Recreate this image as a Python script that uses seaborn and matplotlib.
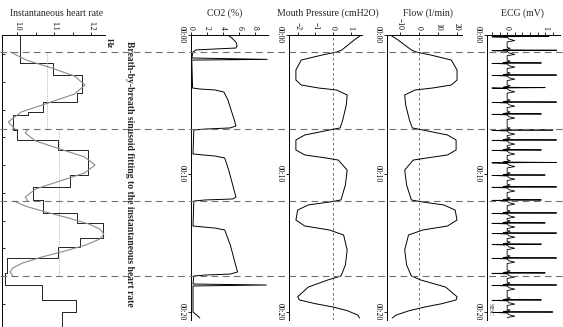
import numpy as np
import pandas as pd
import matplotlib
matplotlib.use("Agg")
import matplotlib.pyplot as plt
import seaborn as sns
from matplotlib.transforms import blended_transform_factory
from matplotlib.lines import Line2D
from matplotlib.ticker import MultipleLocator, FixedLocator

sns.set_theme(style="white")
plt.rcParams["font.family"] = ["Liberation Serif", "DejaVu Serif"]

# ---------------- data (time in s, values in panel units) ----------------
breath_onsets = [1.23, 6.79, 11.99, 17.40]

hr_step_t = [0.00, 2.02, 2.89, 4.19, 4.84, 5.56, 5.78, 6.86, 7.58, 8.30, 10.11,
             10.97, 11.91, 12.85, 13.57, 14.66, 15.31, 16.10, 17.18, 18.05,
             19.13, 20.00, 21.10]
hr_step_v = [1.008, 1.097, 1.176, 1.162, 1.070, 1.030, 0.989, 1.000, 1.111,
             1.192, 1.143, 1.043, 1.070, 1.162, 1.232, 1.170, 1.111, 0.973,
             0.968, 1.068, 1.159, 1.122, 1.122]

fit1_t = [1.23, 1.81, 2.38, 2.96, 3.61, 4.26, 4.91, 5.56, 6.28, 6.79]
fit1_v = [0.982, 1.025, 1.093, 1.155, 1.184, 1.155, 1.084, 1.011, 0.976, 0.994]
fit2_t = [6.79, 7.08, 7.65, 8.23, 8.81, 9.39, 9.96, 10.54, 11.12, 11.70, 11.99]
fit2_v = [1.029, 1.022, 1.050, 1.116, 1.183, 1.211, 1.183, 1.116, 1.050, 1.022, 1.029]
fit3_t = [11.99, 12.35, 12.78, 13.21, 13.65, 14.01, 14.37, 14.73, 15.16, 15.60,
          16.03, 16.46, 16.82, 17.11, 17.40]
fit3_v = [0.992, 1.022, 1.077, 1.139, 1.194, 1.224, 1.235, 1.224, 1.186, 1.129,
          1.067, 1.015, 0.988, 0.981, 0.988]

breath_mean_t0 = [1.23, 6.79, 11.99]
breath_mean_t1 = [6.79, 11.99, 17.40]
breath_mean_v = [1.080, 1.113, 1.113]

co2_t = [0.00, 0.22, 0.51, 0.79, 0.94, 1.01, 1.08, 1.23, 1.66, 1.76, 1.81, 1.86,
         3.83, 3.90, 3.97, 4.12, 4.69, 5.42, 6.14, 6.57, 6.71, 6.79, 6.86,
         8.59, 8.66, 8.74, 8.88, 9.75, 10.83, 11.70, 11.84, 11.91, 11.99,
         13.79, 13.86, 13.94, 14.08, 15.16, 16.25, 17.11, 17.26, 17.33, 17.40,
         17.98, 18.05, 18.12, 20.00, 20.22, 20.43]
co2_v = [4.6, 5.1, 5.6, 5.75, 5.6, 3.0, 0.6, 0.25, 0.1, 9.5, 0.1, 0.1,
         0.2, 1.1, 3.0, 4.1, 4.6, 5.0, 5.4, 5.6, 4.9, 1.8, 0.35,
         0.25, 1.5, 3.0, 4.2, 4.7, 5.2, 5.6, 5.2, 1.8, 0.35,
         0.25, 1.5, 3.0, 4.2, 4.9, 5.4, 5.8, 4.9, 1.8, 0.35,
         0.25, 9.4, 0.25, 0.25, 0.7, 1.1]

pres_t = [0.00, 0.36, 0.72, 1.08, 1.23, 1.44, 1.81, 2.53, 3.25, 3.61, 3.83,
          3.97, 4.33, 5.05, 6.14, 6.71, 6.86, 7.22, 7.58, 8.30, 8.66, 8.88,
          9.03, 9.75, 10.83, 11.91, 12.06, 12.27, 12.64, 13.36, 13.79, 14.08,
          14.44, 15.52, 16.61, 17.40, 17.69, 18.20, 18.90, 19.13, 19.40,
          19.64, 19.90, 20.22, 20.43]
pres_v = [1.6, 1.2, 0.85, 0.5, 0.2, -0.6, -1.8, -2.1, -2.1, -1.8, -0.8,
          0.2, 0.8, 0.75, 0.55, 0.4, -0.2, -1.6, -2.1, -2.1, -1.6, -0.4,
          0.3, 0.8, 0.7, 0.45, -0.2, -1.4, -2.0, -2.1, -1.6, -0.2,
          0.6, 0.8, 0.7, 0.45, -0.3, -1.4, -2.0, -1.9, -1.0,
          0.0, 0.8, 1.4, 1.5]

flow_t = [0.00, 0.36, 0.72, 1.08, 1.23, 1.44, 1.81, 2.53, 3.25, 3.61, 3.83,
          3.97, 4.33, 5.05, 6.14, 6.71, 6.86, 7.22, 7.58, 8.30, 8.66, 8.88,
          9.03, 9.75, 10.83, 11.91, 12.06, 12.27, 12.64, 13.36, 13.79, 14.08,
          14.44, 15.52, 16.61, 17.40, 17.69, 18.20, 18.90, 19.13, 19.40,
          19.64, 19.90, 20.22, 20.43]
flow_v = [-15.0, -11.0, -7.5, -4.0, -1.5, 6.0, 17.0, 20.0, 20.0, 17.0, 7.0,
          -2.0, -7.5, -7.0, -5.0, -3.5, 2.0, 15.0, 19.5, 19.5, 15.0, 4.0,
          -3.0, -7.5, -6.5, -4.0, 2.0, 13.0, 19.0, 20.0, 15.0, 2.0,
          -5.5, -7.5, -6.5, -4.0, 1.0, 14.0, 20.0, 19.5, 12.0,
          3.0, -5.0, -12.0, -14.0]

ecg_r_t = [0.10, 1.10, 2.02, 2.89, 3.80, 4.84, 5.70, 6.86, 7.58, 8.30, 9.20,
           10.11, 10.97, 11.91, 12.85, 13.57, 14.30, 15.10, 16.10, 17.18,
           18.05, 19.13, 20.00]
ecg_r_v = [1.1, 1.3, 0.9, 1.3, 1.0, 1.3, 0.9, 1.2, 1.3, 0.9, 1.3, 1.0,
           1.3, 0.9, 1.3, 1.0, 1.3, 0.9, 1.3, 1.0, 1.3, 0.9, 1.2]
ecg_tpl_dt = [-0.20, -0.14, -0.08, -0.03, 0.00, 0.03, 0.07, 0.20, 0.30, 0.40]
ecg_tpl_v = [0.0, 0.08, 0.0, -0.10, 1.0, -0.40, 0.0, 0.05, 0.20, 0.0]

# ---------------- figure ----------------
W, H = 563, 327
fig = plt.figure(figsize=(W / 100, H / 100), dpi=100)
Y0 = 35.0
PX_PER_S = 13.85


def add_ax(x0, x1, ybot):
    ax = fig.add_axes([x0 / W, 1 - ybot / H, (x1 - x0) / W, (ybot - Y0) / H])
    ax.set_ylim((ybot - Y0) / PX_PER_S, 0)
    for s in ("right", "bottom"):
        ax.spines[s].set_visible(False)
    for s in ("left", "top"):
        ax.spines[s].set_color("black")
        ax.spines[s].set_linewidth(0.7)
    ax.xaxis.set_ticks_position("top")
    ax.xaxis.set_label_position("top")
    ax.tick_params(axis="x", which="both", direction="out", length=2.5,
                   width=0.6, pad=1, labelsize=5.5, labelrotation=-90,
                   top=True, bottom=False, colors="black")
    ax.tick_params(axis="y", which="both", direction="out", length=2.5,
                   width=0.6, pad=1, labelsize=5.5, labelrotation=-90,
                   left=True, right=False, colors="black")
    ax.grid(False)
    ax.set_facecolor("none")
    return ax


LW = 0.7

# HR panel
ax_hr = add_ax(2, 105, 327)
ax_hr.set_xlim(0.959, 1.238)
df_step = pd.DataFrame({"hr": hr_step_v, "t": hr_step_t})
sns.lineplot(data=df_step, x="hr", y="t", orient="y", sort=False,
             estimator=None, color="#222222", lw=0.7, drawstyle="steps-pre",
             ax=ax_hr)
fit_rows = []
for i, (tt, vv) in enumerate([(fit1_t, fit1_v), (fit2_t, fit2_v), (fit3_t, fit3_v)]):
    for a, b in zip(tt, vv):
        fit_rows.append({"seg": i, "t": a, "hr": b})
df_fit = pd.DataFrame(fit_rows)
sns.lineplot(data=df_fit, x="hr", y="t", units="seg", orient="y", sort=False,
             estimator=None, color="#8a8a8a", lw=0.8, ax=ax_hr)
for a, b, v in zip(breath_mean_t0, breath_mean_t1, breath_mean_v):
    ax_hr.plot([v, v], [a, b], color="#9a9a9a", lw=0.6, ls=(0, (1, 1.5)))
ax_hr.xaxis.set_major_locator(FixedLocator([1.0, 1.1, 1.2]))
ax_hr.xaxis.set_minor_locator(FixedLocator([1.05, 1.15]))
ax_hr.set_xticklabels(["1.0", "1.1", "1.2"])
ax_hr.yaxis.set_major_locator(FixedLocator([1.4 + 2 * k for k in range(10)]))
ax_hr.set_yticklabels([])
ax_hr.tick_params(axis="y", direction="in", length=2.5)

# CO2
ax_co2 = add_ax(191, 268, 320)
ax_co2.set_xlim(0, 9.6)
sns.lineplot(x=co2_v, y=co2_t, orient="y", sort=False, estimator=None,
             color="black", lw=LW, ax=ax_co2)
ax_co2.xaxis.set_major_locator(FixedLocator([0, 2, 4, 6, 8]))

# Mouth pressure
ax_p = add_ax(289, 362, 320)
ax_p.set_xlim(-2.49, 1.64)
ax_p.axvline(0, color="#555555", lw=0.6, ls=(0, (3, 3)))
sns.lineplot(x=pres_v, y=pres_t, orient="y", sort=False, estimator=None,
             color="black", lw=LW, ax=ax_p)
ax_p.xaxis.set_major_locator(FixedLocator([-2, -1, 0, 1]))

# Flow
ax_f = add_ax(387, 462, 320)
ax_f.set_xlim(-16.8, 22.6)
ax_f.axvline(0, color="#555555", lw=0.6, ls=(0, (3, 3)))
sns.lineplot(x=flow_v, y=flow_t, orient="y", sort=False, estimator=None,
             color="black", lw=LW, ax=ax_f)
ax_f.xaxis.set_major_locator(FixedLocator([-10, 0, 10, 20]))

# ECG
ecg_t, ecg_v = [], []
for rt, rv in zip(ecg_r_t, ecg_r_v):
    for dt, tv in zip(ecg_tpl_dt, ecg_tpl_v):
        ecg_t.append(rt + dt)
        ecg_v.append(tv * rv if dt == 0.0 else tv)
ax_e = add_ax(487, 560, 320)
ax_e.set_xlim(-0.53, 1.39)
sns.lineplot(x=ecg_v, y=ecg_t, orient="y", sort=False, estimator=None,
             color="black", lw=0.6, ax=ax_e)
ax_e.xaxis.set_major_locator(FixedLocator([0, 1]))
ax_e.xaxis.set_minor_locator(MultipleLocator(0.2))

for ax in (ax_co2, ax_p, ax_f, ax_e):
    ax.yaxis.set_major_locator(FixedLocator([0, 10, 20]))
    ax.set_yticklabels(["00:00", "00:10", "00:20"])
    for lab in ax.get_yticklabels():
        lab.set_rotation(-90)
        lab.set_va("center")

for ax in (ax_hr, ax_co2, ax_p, ax_f, ax_e):
    ax.set_xlabel("")
    ax.set_ylabel("")

# breath onset dashed lines across the whole figure
tr = blended_transform_factory(fig.transFigure, ax_co2.transData)
for t in breath_onsets:
    fig.add_artist(Line2D([0, 1], [t, t], transform=tr, color="#707070",
                          lw=0.8, ls=(0, (6, 4))))

# texts
fs = 7
fig.text(57 / W, 1 - 13 / H, "Instantaneous heart rate", ha="center", va="center", fontsize=fs)
fig.text(225 / W, 1 - 13 / H, "CO2 (%)", ha="center", va="center", fontsize=fs)
fig.text(328 / W, 1 - 13 / H, "Mouth Pressure (cmH2O)", ha="center", va="center", fontsize=fs)
fig.text(428 / W, 1 - 13 / H, "Flow (l/min)", ha="center", va="center", fontsize=fs)
fig.text(522 / W, 1 - 13 / H, "ECG (mV)", ha="center", va="center", fontsize=fs)
fig.text(109 / W, 1 - 38 / H, "Hz", rotation=-90, ha="center", va="top",
         fontsize=6, fontweight="bold")
fig.text(129 / W, 1 - 41 / H,
         "Breath-by-breath sinusoid fitting to the instantaneous heart rate",
         rotation=-90, ha="center", va="top", fontsize=6.9, fontweight="bold")
fig.text(490 / W, 1 - 309 / H, "SEC", rotation=-90, ha="center", va="center", fontsize=5)

fig.savefig("out.png", dpi=100)
